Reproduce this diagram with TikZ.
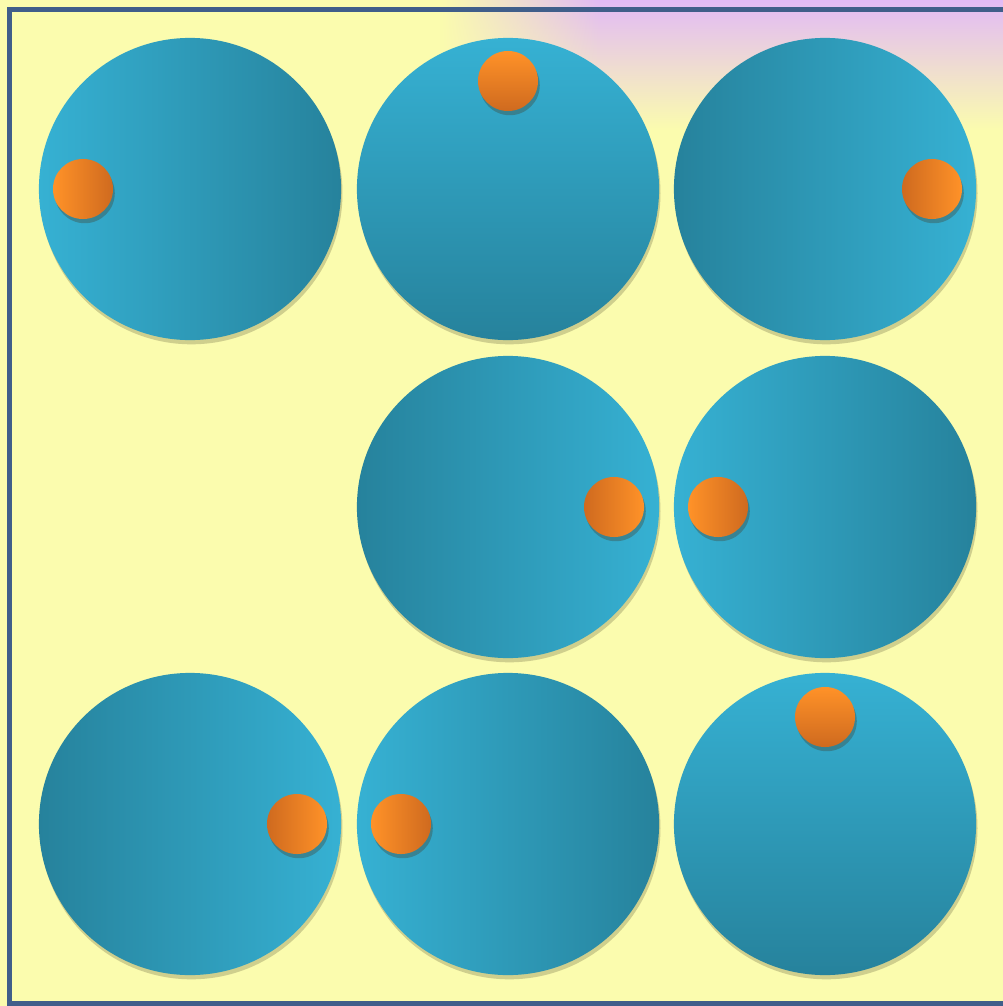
\documentclass[tikz,border=0pt]{standalone}
\usepackage{tikz}
\usetikzlibrary{calc,shadows,fadings}
\definecolor{bgyellow}{RGB}{251,252,174}
\definecolor{haze}{RGB}{226,186,246}
\definecolor{framebl}{RGB}{64,94,138}
\definecolor{discLt}{RGB}{54,177,211}
\definecolor{discDk}{RGB}{38,130,156}
\definecolor{dotLt}{RGB}{255,146,40}
\definecolor{dotDk}{RGB}{207,106,31}

\begin{document}
\begin{tikzpicture}[x=0.01cm,y=-0.01cm,
  disc/.style={circle,inner sep=0pt,minimum size=3.02cm,
    drop shadow={shadow xshift=0.4pt,shadow yshift=-1.2pt,opacity=0.25,fill=black!60!olive}},
  dot/.style={circle,inner sep=0pt,minimum size=0.6cm,
    drop shadow={shadow xshift=0.5pt,shadow yshift=-1.2pt,opacity=0.35,fill=black!70!olive}},
  haze band/.style={top color=haze,middle color=haze!85!bgyellow,bottom color=bgyellow},
  litW/.style={left color=discLt,right color=discDk},
  litE/.style={left color=discDk,right color=discLt},
  litN/.style={top color=discLt,bottom color=discDk},
  dotW/.style={left color=dotLt,right color=dotDk},
  dotE/.style={left color=dotDk,right color=dotLt},
  dotN/.style={top color=dotLt,bottom color=dotDk}]
\useasboundingbox (0,0) rectangle (1003,1006);
% backdrop
\fill[bgyellow] (0,0) rectangle (1003,1006);
\shade[haze band,path fading=west] (440,0) rectangle (600,130);
\shade[haze band] (600,0) rectangle (1003,130);
\draw[framebl,line width=1.2pt] (9.5,9.5) rectangle (1012,1003.5);
% row 1
\node[disc,litW] (a1) at (190,189) {};
\node[disc,litN] (a2) at (508,189) {};
\node[disc,litE] (a3) at (825,189) {};
% row 2
\node[disc,litE] (b2) at (508,507) {};
\node[disc,litW] (b3) at (825,507) {};
% row 3
\node[disc,litE] (c1) at (190,824) {};
\node[disc,litW] (c2) at (508,824) {};
\node[disc,litN] (c3) at (825,824) {};
% markers
\node[dot,dotW] (pa1) at ($(a1)+(-107,0)$) {};
\node[dot,dotN] (pa2) at ($(a2)+(0,-108)$) {};
\node[dot,dotE] (pa3) at ($(a3)+(107,0)$) {};
\node[dot,dotE] (pb2) at ($(b2)+(106,0)$) {};
\node[dot,dotW] (pb3) at ($(b3)+(-107,0)$) {};
\node[dot,dotE] (pc1) at ($(c1)+(107,0)$) {};
\node[dot,dotW] (pc2) at ($(c2)+(-107,0)$) {};
\node[dot,dotN] (pc3) at ($(c3)+(0,-107)$) {};
\end{tikzpicture}
\end{document}
